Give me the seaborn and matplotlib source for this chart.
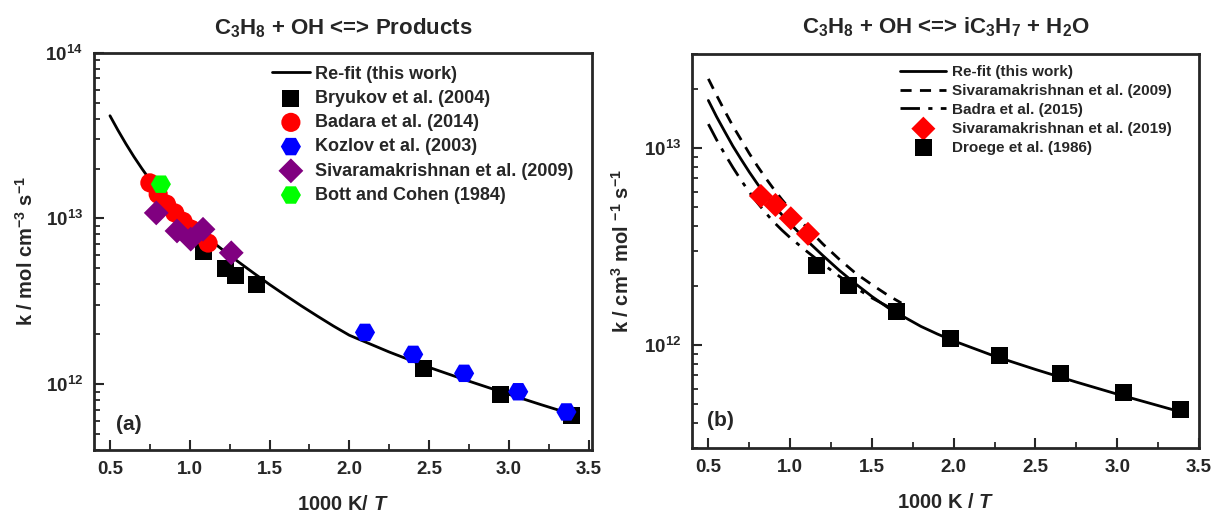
import math
import matplotlib
matplotlib.use("Agg")
import matplotlib.pyplot as plt
import seaborn as sns
from matplotlib.ticker import LogLocator, FixedLocator, NullFormatter, MultipleLocator

# ---------- DATA ----------
# panel (a): C3H8 + OH <=> Products
fit_a_x = [0.5, 0.55, 0.6, 0.65, 0.7, 0.75, 0.8, 0.85, 0.9, 0.95, 1.0,
           1.1, 1.2, 1.3, 1.4, 1.5, 1.6, 1.7, 1.8, 1.9, 2.0,
           2.25, 2.5, 2.75, 3.0, 3.2, 3.35]
fit_a_k = [4.17e13, 3.41e13, 2.82e13, 2.36e13, 2.00e13, 1.71e13, 1.48e13, 1.30e13, 1.15e13, 1.03e13, 9.33e12,
           7.78e12, 6.53e12, 5.51e12, 4.68e12, 3.99e12, 3.43e12, 2.96e12, 2.57e12, 2.24e12, 1.97e12,
           1.56e12, 1.26e12, 1.04e12, 8.66e11, 7.51e11, 6.77e11]

bryukov_x = [1.083, 1.223, 1.288, 1.417, 2.463, 2.944, 3.39]
bryukov_k = [6.3e12, 5.0e12, 4.52e12, 3.98e12, 1.24e12, 8.7e11, 6.45e11]

badara_x = [0.75, 0.802, 0.854, 0.906, 0.958, 1.01, 1.063, 1.115]
badara_k = [1.64e13, 1.40e13, 1.22e13, 1.08e13, 9.6e12, 8.6e12, 8.0e12, 7.1e12]

kozlov_x = [2.098, 2.40, 2.719, 3.058, 3.36]
kozlov_k = [2.05e12, 1.51e12, 1.16e12, 8.98e11, 6.78e11]

siva09_x = [0.79, 0.92, 1.006, 1.083, 1.26]
siva09_k = [1.08e13, 8.4e12, 7.5e12, 8.6e12, 6.2e12]

bott_x = [0.819]
bott_k = [1.61e13]

# panel (b): C3H8 + OH <=> iC3H7 + H2O
fit_b_x = [0.5, 0.55, 0.6, 0.65, 0.7, 0.75, 0.8, 0.85, 0.9, 0.95, 1.0,
           1.1, 1.2, 1.3, 1.4, 1.5, 1.6, 1.7, 1.8, 1.9, 2.0,
           2.25, 2.5, 2.75, 3.0, 3.2, 3.35]
fit_b_k = [1.74e13, 1.44e13, 1.21e13, 1.02e13, 8.75e12, 7.54e12, 6.56e12, 5.76e12, 5.11e12, 4.57e12, 4.12e12,
           3.40e12, 2.84e12, 2.39e12, 2.04e12, 1.76e12, 1.54e12, 1.38e12, 1.24e12, 1.135e12, 1.047e12,
           8.76e11, 7.50e11, 6.47e11, 5.62e11, 5.05e11, 4.66e11]

siva09_fit_x = [0.5, 0.55, 0.6, 0.65, 0.7, 0.75, 0.8, 0.85, 0.9, 0.95, 1.0,
                1.1, 1.2, 1.3, 1.4, 1.5, 1.6, 1.68]
siva09_fit_k = [2.24e13, 1.85e13, 1.54e13, 1.29e13, 1.10e13, 9.37e12, 8.08e12, 7.03e12, 6.17e12, 5.46e12, 4.87e12,
                3.96e12, 3.25e12, 2.72e12, 2.31e12, 2.02e12, 1.78e12, 1.63e12]

badra15_x = [0.5, 0.55, 0.6, 0.65, 0.7, 0.75, 0.8, 0.85, 0.9, 0.95, 1.0,
             1.1, 1.2, 1.3, 1.4, 1.5, 1.6, 1.67]
badra15_k = [1.32e13, 1.10e13, 9.31e12, 7.95e12, 6.85e12, 5.97e12, 5.26e12, 4.68e12, 4.20e12, 3.82e12, 3.50e12,
             2.99e12, 2.57e12, 2.23e12, 1.95e12, 1.73e12, 1.56e12, 1.46e12]

siva19_x = [0.821, 0.91, 1.004, 1.109]
siva19_k = [5.7e12, 5.13e12, 4.39e12, 3.66e12]

droege_x = [1.164, 1.359, 1.652, 1.979, 2.282, 2.65, 3.038, 3.386]
droege_k = [2.54e12, 2.0e12, 1.48e12, 1.08e12, 8.8e11, 7.15e11, 5.7e11, 4.7e11]

# ---------- STYLE ----------
sns.set_style("ticks")
plt.rcParams["font.family"] = ["Liberation Sans", "DejaVu Sans"]
plt.rcParams["font.weight"] = "bold"
plt.rcParams["mathtext.fontset"] = "custom"
plt.rcParams["mathtext.rm"] = "Liberation Sans:bold"
plt.rcParams["mathtext.bf"] = "Liberation Sans:bold"
plt.rcParams["mathtext.it"] = "Liberation Sans:bold:italic"

fig = plt.figure(figsize=(12.13, 5.13), dpi=100)
ax1 = fig.add_axes([0.0775, 0.123, 0.4105, 0.774])
ax2 = fig.add_axes([0.5705, 0.127, 0.418, 0.768])

# ---------- PANEL (a) ----------
sns.lineplot(x=fit_a_x, y=fit_a_k, ax=ax1, color="black", lw=2, label="Re-fit (this work)", zorder=2)
sns.scatterplot(x=bryukov_x, y=bryukov_k, ax=ax1, marker="s", color="black", s=150,
                edgecolor="none", label="Bryukov et al. (2004)", zorder=3)
sns.scatterplot(x=badara_x, y=badara_k, ax=ax1, marker="o", color="#ff0000", s=190,
                edgecolor="none", label="Badara et al. (2014)", zorder=3)
sns.scatterplot(x=kozlov_x, y=kozlov_k, ax=ax1, marker="H", color="#0000ff", s=210,
                edgecolor="none", label="Kozlov et al. (2003)", zorder=3)
sns.scatterplot(x=siva09_x, y=siva09_k, ax=ax1, marker="D", color="#800080", s=160,
                edgecolor="none", label="Sivaramakrishnan et al. (2009)", zorder=4)
sns.scatterplot(x=bott_x, y=bott_k, ax=ax1, marker="H", color="#00ff00", s=210,
                edgecolor="none", label="Bott and Cohen (1984)", zorder=5)

ax1.set_yscale("log")
ax1.set_xlim(0.4, 3.52)
ax1.set_ylim(4e11, 1e14)
ax1.set_title(r"C$_3$H$_8$ + OH <=> Products", fontsize=16, fontweight="bold", pad=13)
ax1.set_xlabel(r"1000 K/ $\mathit{T}$", fontsize=14.5, fontweight="bold", labelpad=12)
ax1.set_ylabel(r"k / mol cm$^{-3}$ s$^{-1}$", fontsize=14.5, fontweight="bold", labelpad=6)
ax1.text(0.045, 0.065, "(a)", transform=ax1.transAxes, fontsize=15, fontweight="bold", va="center")
ax1.legend(loc="upper right", bbox_to_anchor=(0.985, 0.995), frameon=False, fontsize=13,
           handlelength=2.1, handletextpad=0.3, labelspacing=0.4, borderaxespad=0.2)

# ---------- PANEL (b) ----------
sns.lineplot(x=fit_b_x, y=fit_b_k, ax=ax2, color="black", lw=2, label="Re-fit (this work)", zorder=2)
sns.lineplot(x=siva09_fit_x, y=siva09_fit_k, ax=ax2, color="black", lw=2, linestyle=(0, (4, 3)),
             label="Sivaramakrishnan et al. (2009)", zorder=2)
sns.lineplot(x=badra15_x, y=badra15_k, ax=ax2, color="black", lw=2, linestyle=(0, (7, 3, 1.5, 3)),
             label="Badra et al. (2015)", zorder=2)
sns.scatterplot(x=siva19_x, y=siva19_k, ax=ax2, marker="D", color="#ff0000", s=150,
                edgecolor="none", label="Sivaramakrishnan et al. (2019)", zorder=3)
sns.scatterplot(x=droege_x, y=droege_k, ax=ax2, marker="s", color="black", s=150,
                edgecolor="none", label="Droege et al. (1986)", zorder=3)

ax2.set_yscale("log")
ax2.set_xlim(0.4, 3.5)
ax2.set_ylim(3e11, 3e13)
ax2.set_title(r"C$_3$H$_8$ + OH <=> iC$_3$H$_7$ + H$_2$O", fontsize=16, fontweight="bold", pad=15)
ax2.set_xlabel(r"1000 K / $\mathit{T}$", fontsize=14.5, fontweight="bold", labelpad=12)
ax2.set_ylabel(r"k / cm$^{3}$ mol $^{-1}$ s$^{-1}$", fontsize=14.5, fontweight="bold", labelpad=8)
ax2.text(0.03, 0.07, "(b)", transform=ax2.transAxes, fontsize=15, fontweight="bold", va="center")
ax2.legend(loc="upper right", bbox_to_anchor=(0.965, 0.995), frameon=False, fontsize=11,
           handlelength=3.0, handletextpad=0.4, labelspacing=0.32, borderaxespad=0.2)

# ---------- AXES COSMETICS ----------
for ax, decades in [(ax1, [1e12, 1e13, 1e14]), (ax2, [1e12, 1e13])]:
    ax.xaxis.set_minor_locator(MultipleLocator(0.25))
    ax.set_xticks([0.5, 1.0, 1.5, 2.0, 2.5, 3.0, 3.5])
    ax.set_xticklabels(["0.5", "1.0", "1.5", "2.0", "2.5", "3.0", "3.5"])
    ax.yaxis.set_major_locator(FixedLocator(decades))
    ax.set_yticklabels([r"$\mathbf{10^{%d}}$" % round(math.log10(d)) for d in decades])
    ax.yaxis.set_minor_locator(LogLocator(base=10, subs=range(2, 10)))
    ax.yaxis.set_minor_formatter(NullFormatter())
    ax.tick_params(which="major", direction="in", length=7, width=1.5, labelsize=13.5,
                   top=False, right=False, pad=8)
    ax.tick_params(which="minor", direction="in", length=4, width=1.3, top=False, right=False)
    for lab in ax.get_xticklabels() + ax.get_yticklabels():
        lab.set_fontweight("bold")
    for sp in ax.spines.values():
        sp.set_linewidth(2)
        sp.set_visible(True)

fig.savefig("out.png", dpi=100)
